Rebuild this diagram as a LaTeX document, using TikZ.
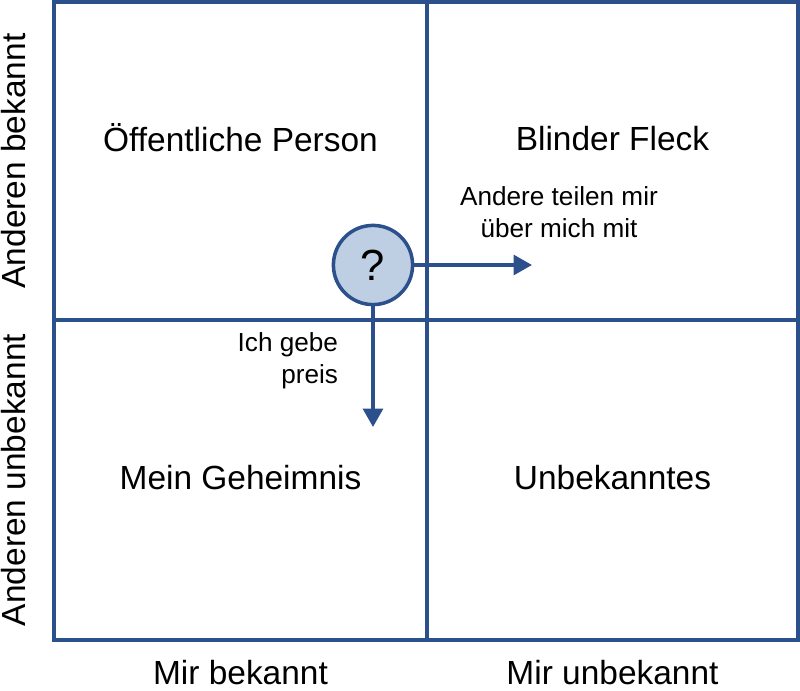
\documentclass[tikz,border=0pt]{standalone}
\usepackage{fontspec}
\setmainfont{Liberation Sans}
\usetikzlibrary{arrows.meta}
\definecolor{gridblue}{RGB}{44,80,140}
\definecolor{bubble}{RGB}{191,207,227}

\begin{document}
\begin{tikzpicture}[
    feld/.style={font=\fontsize{23.8}{28}\selectfont},
    hinweis/.style={font=\fontsize{18.6}{22.8}\selectfont, align=center},
    linie/.style={draw=gridblue, line width=2.5pt},
    pfeil/.style={linie, -{Triangle[length=13pt,width=14pt]}}
  ]
  \useasboundingbox (0,0) rectangle (20,17.25);

  % Raster
  \draw[linie] (1.35,1.25) rectangle (19.95,17.2);
  \draw[linie] (10.675,1.25) -- (10.675,17.2);
  \draw[linie] (1.35,9.25) -- (19.95,9.25);

  % Felder
  \node[feld] (oeff) at (6.0125,13.8) {Öffentliche Person};
  \node[feld] (blind) at (15.3125,13.775) {Blinder Fleck};
  \node[feld] (geheim) at (6.0125,5.3) {Mein Geheimnis};
  \node[feld] (unbek) at (15.3125,5.3) {Unbekanntes};

  % Achsen
  \node[feld] (mirbek) at (6.0125,0.425) {Mir bekannt};
  \node[feld] (mirunbek) at (15.3125,0.425) {Mir unbekannt};
  \node[feld, rotate=90] (andbek) at (0.33,13.225) {Anderen bekannt};
  \node[feld, rotate=90] (andunbek) at (0.33,5.25) {Anderen unbekannt};

  % Fragezeichen und Pfeile
  \node[circle, linie, fill=bubble, minimum size=1.98cm, inner sep=0pt,
        font=\fontsize{31}{36}\selectfont] (frage) at (9.325,10.625) {?};
  \coordinate (rechts) at (13.3,10.625);
  \coordinate (unten) at (9.325,6.575);
  \draw[pfeil] (frage.east) -- (rechts);
  \draw[pfeil] (frage.south) -- (unten);

  \node[hinweis] (teilen) at (13.975,11.95) {Andere teilen mir\\über mich mit};
  \node[hinweis, align=right, anchor=east] (preis) at (8.575,8.225) {Ich gebe\\preis};
\end{tikzpicture}
\end{document}
